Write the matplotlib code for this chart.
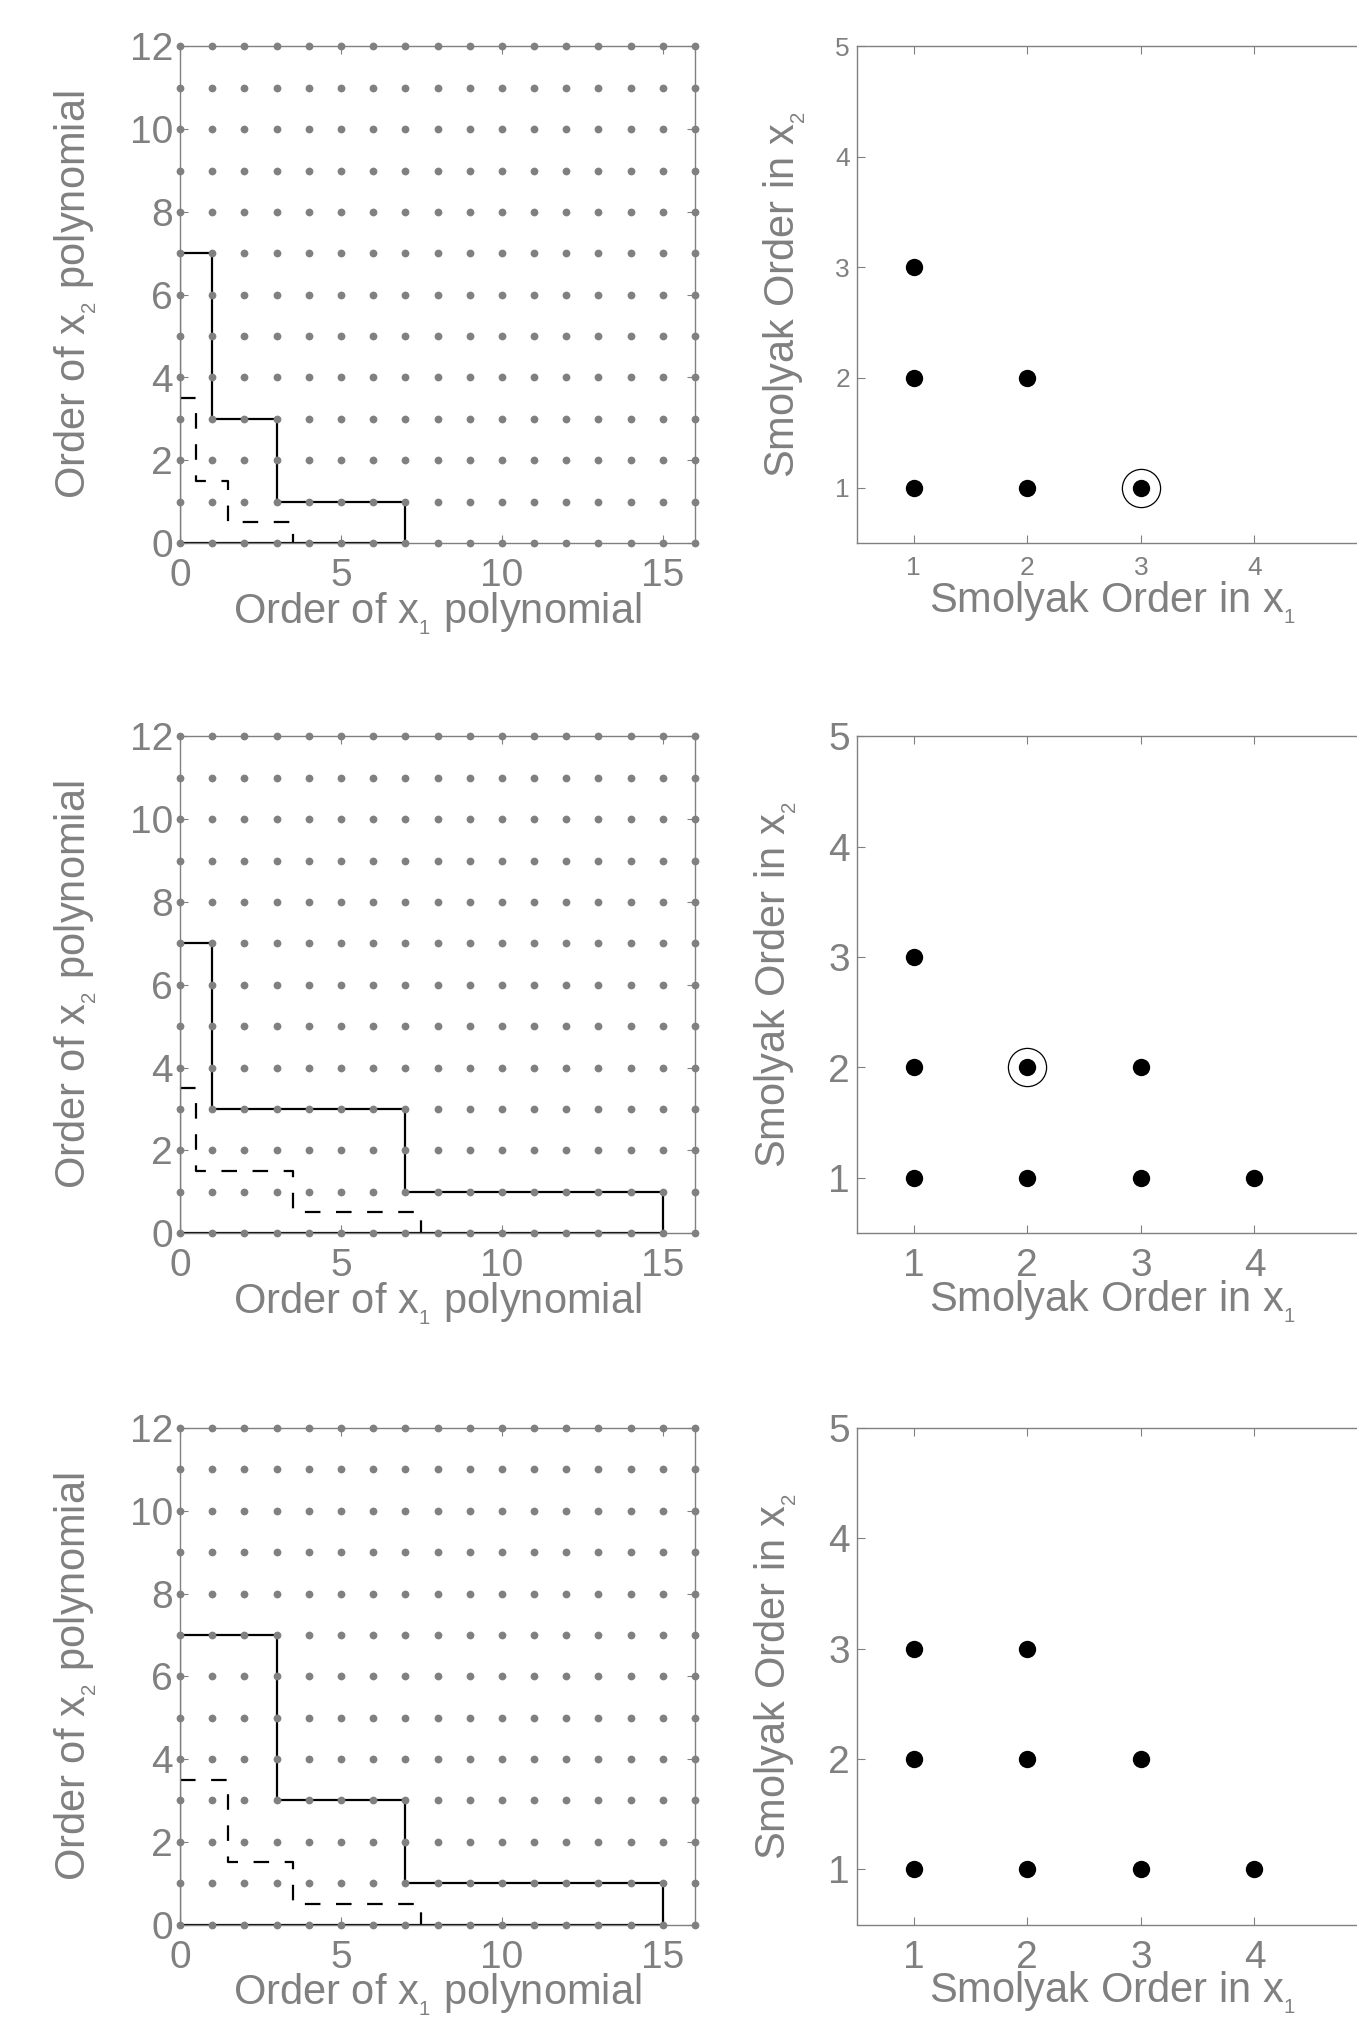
import numpy as np
import matplotlib
matplotlib.use("Agg")
import matplotlib.pyplot as plt

plt.rcParams['font.family'] = ['Liberation Sans', 'DejaVu Sans']
plt.rcParams['mathtext.fontset'] = 'custom'
plt.rcParams['mathtext.rm'] = 'Liberation Sans'
plt.rcParams['mathtext.it'] = 'Liberation Sans'
plt.rcParams['mathtext.default'] = 'regular'

GRAY = '#808080'

# polynomial orders shown as the dot grid (left panels)
order_x1 = np.arange(0, 17)
order_x2 = np.arange(0, 13)

# solid staircase of kept polynomial orders, one list per row
solid_x = [[0, 0, 1, 1, 3, 3, 7, 7, 0],
           [0, 0, 1, 1, 7, 7, 15, 15, 0],
           [0, 0, 3, 3, 7, 7, 15, 15, 0]]
solid_y = [[0, 7, 7, 3, 3, 1, 1, 0, 0],
           [0, 7, 7, 3, 3, 1, 1, 0, 0],
           [0, 7, 7, 3, 3, 1, 1, 0, 0]]

# dashed staircase, one list per row
dashed_x = [[0, 0.5, 0.5, 1.5, 1.5, 3.5, 3.5],
            [0, 0.5, 0.5, 3.5, 3.5, 7.5, 7.5],
            [0, 1.5, 1.5, 3.5, 3.5, 7.5, 7.5]]
dashed_y = [[3.5, 3.5, 1.5, 1.5, 0.5, 0.5, 0],
            [3.5, 3.5, 1.5, 1.5, 0.5, 0.5, 0],
            [3.5, 3.5, 1.5, 1.5, 0.5, 0.5, 0]]

# Smolyak index sets (right panels)
smolyak_x1 = [[1, 1, 1, 2, 2, 3],
              [1, 1, 1, 2, 2, 3, 3, 4],
              [1, 1, 1, 2, 2, 2, 3, 3, 4]]
smolyak_x2 = [[1, 2, 3, 1, 2, 1],
              [1, 2, 3, 1, 2, 1, 2, 1],
              [1, 2, 3, 1, 2, 3, 1, 2, 1]]
# circled index, None when there is none
circled = [(3, 1), (2, 2), None]

W, H = 1357, 2026
fig = plt.figure(figsize=(W / 100, H / 100), dpi=100)

row_top = [46.5, 736.5, 1428]
row_bot = [543, 1233, 1924.5]
right_tick_fs = [19, 28, 28]
right_xpad = [9.5, 11, 11]
right_xlab_y = [-0.139, -0.157, -0.157]
right_ylab_x = [-0.122, -0.14, -0.14]


def add_axes(left, right, top, bottom):
    return fig.add_axes([left / W, 1 - bottom / H, (right - left) / W, (bottom - top) / H])


def style(ax, fs, pad_x):
    for s in ax.spines.values():
        s.set_color(GRAY)
        s.set_linewidth(1.0)
    ax.tick_params(direction='in', length=6, width=0.8, color=GRAY, labelcolor=GRAY,
                   labelsize=fs, top=True, right=True)
    ax.tick_params(axis='x', pad=pad_x)
    ax.tick_params(axis='y', pad=5)


for r in range(3):
    # left panel: polynomial orders
    ax = add_axes(180, 695, row_top[r], row_bot[r])
    gx, gy = np.meshgrid(order_x1, order_x2)
    ax.plot(gx.ravel(), gy.ravel(), 'o', color=GRAY, ms=5.6, mew=0, zorder=4, clip_on=False)
    ax.plot(solid_x[r], solid_y[r], color='black', lw=1.6, zorder=2)
    ax.plot(dashed_x[r], dashed_y[r], color='black', lw=1.6, dashes=(7, 7), zorder=2)
    ax.set_xlim(0, 16)
    ax.set_ylim(0, 12)
    ax.set_xticks([0, 5, 10, 15])
    ax.set_yticks(np.arange(0, 13, 2))
    style(ax, 28, 11)
    ax.set_xlabel(r'Order of x$_{_1}$ polynomial', fontsize=30, color=GRAY, va='baseline')
    ax.xaxis.set_label_coords(0.5, -0.161)
    ax.set_ylabel(r'Order of x$_{_2}$ polynomial', fontsize=30, color=GRAY, va='baseline')
    ax.yaxis.set_label_coords(-0.184, 0.5)

    # right panel: Smolyak indices
    ax = add_axes(857, 1368, row_top[r], row_bot[r])
    ax.plot(smolyak_x1[r], smolyak_x2[r], 'o', color='black', ms=12.5, mew=0, zorder=3)
    if circled[r] is not None:
        ax.plot(*circled[r], 'o', mfc='none', mec='black', ms=27.5, mew=0.9, zorder=3)
    ax.set_xlim(0.5, 5)
    ax.set_ylim(0.5, 5)
    ax.set_xticks([1, 2, 3, 4])
    ax.set_yticks([1, 2, 3, 4, 5])
    style(ax, right_tick_fs[r], right_xpad[r])
    ax.set_xlabel(r'Smolyak Order in x$_{_1}$', fontsize=30, color=GRAY, va='baseline')
    ax.xaxis.set_label_coords(0.5, right_xlab_y[r])
    ax.set_ylabel(r'Smolyak Order in x$_{_2}$', fontsize=30, color=GRAY, va='baseline')
    ax.yaxis.set_label_coords(right_ylab_x[r], 0.5)

fig.savefig('out.png', dpi=100)
